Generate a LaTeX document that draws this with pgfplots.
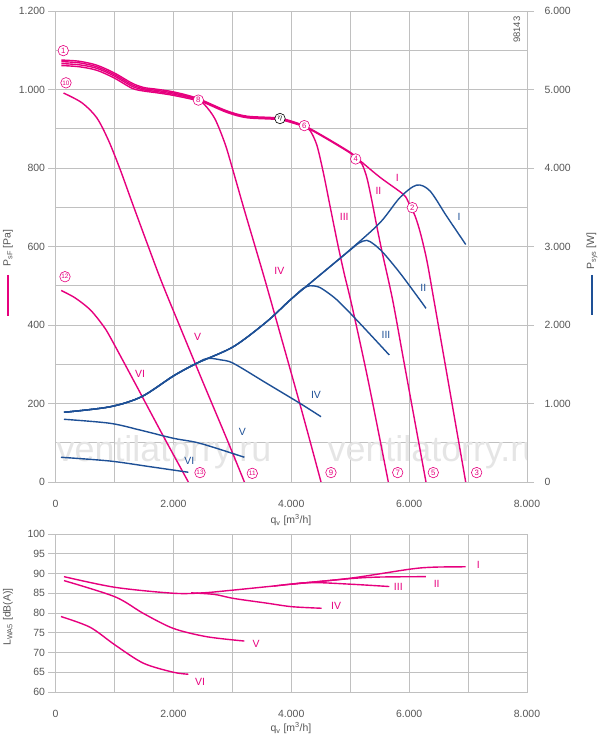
\documentclass[border=0pt]{standalone}
\usepackage{fontspec}
\setmainfont{Liberation Sans}
\usepackage{pgfplots}
\pgfplotsset{compat=1.18}
\definecolor{pk}{RGB}{230,0,126}
\definecolor{bl}{RGB}{30,80,150}
\definecolor{gr}{RGB}{192,192,192}
\definecolor{tx}{RGB}{85,85,85}
\newcommand{\fs}{\fontsize{10.5}{12}\selectfont}
\pgfplotsset{
  base/.style={scale only axis, width=471.5bp,
    xmin=0, xmax=8000,
    xtick={0,2000,4000,6000,8000}, minor xtick={1000,3000,5000,7000},
    axis line style={gr, line width=0.8bp},
    tick style={gr, line width=0.8bp},
    major tick length=7bp, minor tick length=0pt, tick align=outside,
    ticklabel style={font=\fs, text=tx},
    scaled ticks=false,
    /pgf/number format/1000 sep={.},
    /pgf/number format/assume math mode=true,
    every axis plot/.append style={line width=1.4bp, smooth},
  },
  gridded/.style={grid=both, major grid style={gr, line width=0.8bp}, minor grid style={gr, line width=0.8bp}},
}
\tikzset{
  cn/.style={circle, draw=pk, text=pk, fill=white, inner sep=0pt, minimum size=10.5bp, line width=0.6bp, font=\fontsize{7.8}{8}\selectfont},
  cn2/.style={cn, font=\fontsize{6.4}{7}\selectfont},
  lab/.style={font=\fs},
}
\begin{document}
\begin{tikzpicture}
\path[use as bounding box] (0bp,0bp) rectangle (600bp,740bp);

% ---------------- top: pressure ----------------
\begin{axis}[base, gridded, height=471bp, at={(55.5bp,258bp)}, anchor=south west,
  ymin=0, ymax=1200, ytick={0,200,...,1200}, minor ytick={100,300,...,1100},
  ytick pos=left, xtick pos=bottom, xtick style={draw=none},
  xticklabel style={yshift=-8bp}]
\node[text=black!10, font=\fontsize{36}{36}\selectfont, anchor=base] at (axis cs:1841,51) {ventilatorry.ru};
\node[text=black!10, font=\fontsize{36}{36}\selectfont, anchor=base] at (axis cs:6438,51) {ventilatorry.ru};
% I
\addplot[pk] coordinates {(100,1075) (400,1072) (700,1062) (1000,1042) (1300,1016) (1500,1005) (1700,1001) (2000,994) (2400,978) (2900,946) (3250,932) (3800,927) (4150,912) (4300,902) (4650,872) (5000,840) (5110,826) (5500,777) (5900,733) (5990,712) (6100,678) (6190,635) (6300,565) (6420,464) (6600,310) (6780,155) (6960,0)};
% II
\addplot[pk] coordinates {(100,1071) (400,1068) (700,1058) (1000,1038) (1300,1012) (1500,1002) (1700,998) (2000,991) (2400,976) (2900,944) (3250,930) (3800,925) (4150,910) (4300,900) (4650,870) (5000,838) (5110,824) (5200,810) (5282,776) (5366,718) (5451,652) (5540,587) (5720,464) (5900,316) (6100,152) (6286,0)};
% III
\addplot[pk] coordinates {(100,1066) (400,1063) (700,1054) (1000,1034) (1300,1008) (1500,999) (1700,995) (2000,988) (2400,974) (2900,942) (3250,928) (3800,923) (4150,909) (4250,904) (4330,893) (4437,857) (4549,785) (4662,700) (4790,605) (4900,530) (5028,450) (5300,262) (5647,0)};
% IV
\addplot[pk] coordinates {(100,1061) (400,1058) (700,1049) (1000,1029) (1300,1003) (1500,996) (1700,992) (2000,985) (2424,971) (2537,960) (2706,925) (2876,862) (3000,800) (3200,695) (3440,573) (3610,485) (4148,198) (4505,0)};
% V
\addplot[pk] coordinates {(136,991) (450,966) (700,928) (900,870) (1100,795) (1300,712) (1550,610) (1800,510) (2100,400) (2500,255) (2900,112) (3205,0)};
% VI
\addplot[pk] coordinates {(96,488) (333,469) (588,439) (800,400) (925,370) (1349,252) (1800,125) (2254,0)};
% labels
\node[lab, text=pk] at (axis cs:5800,774) {I};
\node[lab, text=pk] at (axis cs:5479,742) {II};
\node[lab, text=pk] at (axis cs:4899,676) {III};
\node[lab, text=pk] at (axis cs:3798,538) {IV};
\node[lab, text=pk] at (axis cs:2413,370) {V};
\node[lab, text=pk] at (axis cs:1434,275) {VI};
\node[cn] at (axis cs:132,1099) {1};
\node[cn] at (axis cs:6054,699) {2};
\node[cn] at (axis cs:7146,24) {3};
\node[cn] at (axis cs:5093,823) {4};
\node[cn] at (axis cs:6410,24) {5};
\node[cn] at (axis cs:4222,908) {6};
\node[cn] at (axis cs:5806,24) {7};
\node[cn] at (axis cs:2424,973) {8};
\node[cn] at (axis cs:4674,24) {9};
\node[cn2] at (axis cs:178,1017) {10};
\node[cn2] at (axis cs:3339,22) {11};
\node[cn2] at (axis cs:161,523) {12};
\node[cn2] at (axis cs:2452,24) {13};
\node[cn, draw=black, text=black] at (axis cs:3809,926) {$\eta$};
\node[rotate=90, text=tx, font=\fontsize{9.5}{10}\selectfont] at (axis cs:7830,1152) {98143};
\end{axis}

% ---------------- top: power ----------------
\begin{axis}[base, height=471bp, at={(55.5bp,258bp)}, anchor=south west,
  ymin=0, ymax=6000, ytick={0,1000,...,6000},
  axis y line*=right, axis x line=none, yticklabel style={xshift=7bp}]
% I
\addplot[bl] coordinates {(144,888) (925,958) (1462,1087) (1999,1350) (2395,1512) (3017,1723) (3583,2042) (3979,2318) (4324,2535) (5000,2960) (5507,3304) (5845,3624) (6127,3782) (6352,3709) (6634,3389) (6960,3026)};
% II
\addplot[bl] coordinates {(144,888) (925,958) (1462,1087) (1999,1350) (2395,1512) (3017,1723) (3583,2042) (3979,2318) (4324,2535) (5000,2955) (5150,3045) (5282,3078) (5400,3030) (5563,2918) (5845,2662) (6183,2320) (6286,2212)};
% III
\addplot[bl] coordinates {(144,888) (925,958) (1462,1087) (1999,1350) (2395,1512) (3017,1723) (3583,2042) (3979,2315) (4200,2465) (4324,2500) (4450,2488) (4549,2449) (4775,2320) (5110,2064) (5663,1618)};
% IV
\addplot[bl] coordinates {(144,888) (925,958) (1462,1087) (1999,1350) (2395,1512) (2520,1562) (2621,1576) (2800,1556) (3017,1512) (3583,1257) (4148,1002) (4505,832)};
% V
\addplot[bl] coordinates {(144,799) (925,748) (1434,662) (1999,557) (2452,493) (3205,315)};
% VI
\addplot[bl] coordinates {(93,315) (925,267) (1603,195) (2254,124)};
\node[lab, text=bl] at (axis cs:6848,3380) {I};
\node[lab, text=bl] at (axis cs:6240,2468) {II};
\node[lab, text=bl] at (axis cs:5607,1873) {III};
\node[lab, text=bl] at (axis cs:4420,1108) {IV};
\node[lab, text=bl] at (axis cs:3170,641) {V};
\node[lab, text=bl] at (axis cs:2270,271) {VI};
\end{axis}

% ---------------- bottom: sound ----------------
\begin{axis}[base, gridded, height=158bp, at={(55.5bp,48bp)}, anchor=south west,
  ymin=60, ymax=100, ytick={60,65,...,100},
  ytick pos=left, xtick pos=bottom, xtick style={draw=none},
  xticklabel style={yshift=-8bp}]
\addplot[pk] coordinates {(144,89.2) (1010,86.5) (1999,85.0) (2500,85.1) (3017,85.8) (4007,87.3) (4997,88.8) (6015,91.1) (6410,91.6) (6960,91.7)};
\addplot[pk] coordinates {(4007,87.3) (4997,88.7) (5500,89.1) (6286,89.2)};
\addplot[pk] coordinates {(3700,86.8) (4300,87.7) (4997,87.3) (5663,86.7)};
\addplot[pk] coordinates {(2300,85.1) (2700,84.7) (3017,83.7) (3583,82.5) (4007,81.6) (4516,81.2)};
\addplot[pk] coordinates {(144,88.2) (1010,84.1) (1490,79.9) (1999,76.1) (2565,74.0) (3205,72.9)};
\addplot[pk] coordinates {(93,79.1) (586,76.4) (1010,71.9) (1490,67.3) (1999,65.0) (2254,64.5)};
\node[lab, text=pk] at (axis cs:7175,92.2) {I};
\node[lab, text=pk] at (axis cs:6468,87.3) {II};
\node[lab, text=pk] at (axis cs:5817,86.5) {III};
\node[lab, text=pk] at (axis cs:4760,81.8) {IV};
\node[lab, text=pk] at (axis cs:3402,72.2) {V};
\node[lab, text=pk] at (axis cs:2452,62.6) {VI};
\end{axis}

% ---------------- axis titles ----------------
\node[rotate=90, text=tx, font=\fs] at (8bp,492bp) {P\textsubscript{sF} [Pa]};
\draw[pk, line width=1.4bp] (8bp,465bp) -- (8bp,424bp);
\node[rotate=90, text=tx, font=\fs] at (592bp,489bp) {P\textsubscript{sys} [W]};
\draw[bl, line width=1.4bp] (592bp,465bp) -- (592bp,425bp);
\node[rotate=90, text=tx, font=\fs] at (8bp,123bp) {L\textsubscript{WA5} [dB(A)]};
\node[text=tx, font=\fs] at (291bp,220bp) {q\textsubscript{v} [m\textsuperscript{3}/h]};
\node[text=tx, font=\fs] at (291bp,12bp) {q\textsubscript{v} [m\textsuperscript{3}/h]};
\end{tikzpicture}
\end{document}
